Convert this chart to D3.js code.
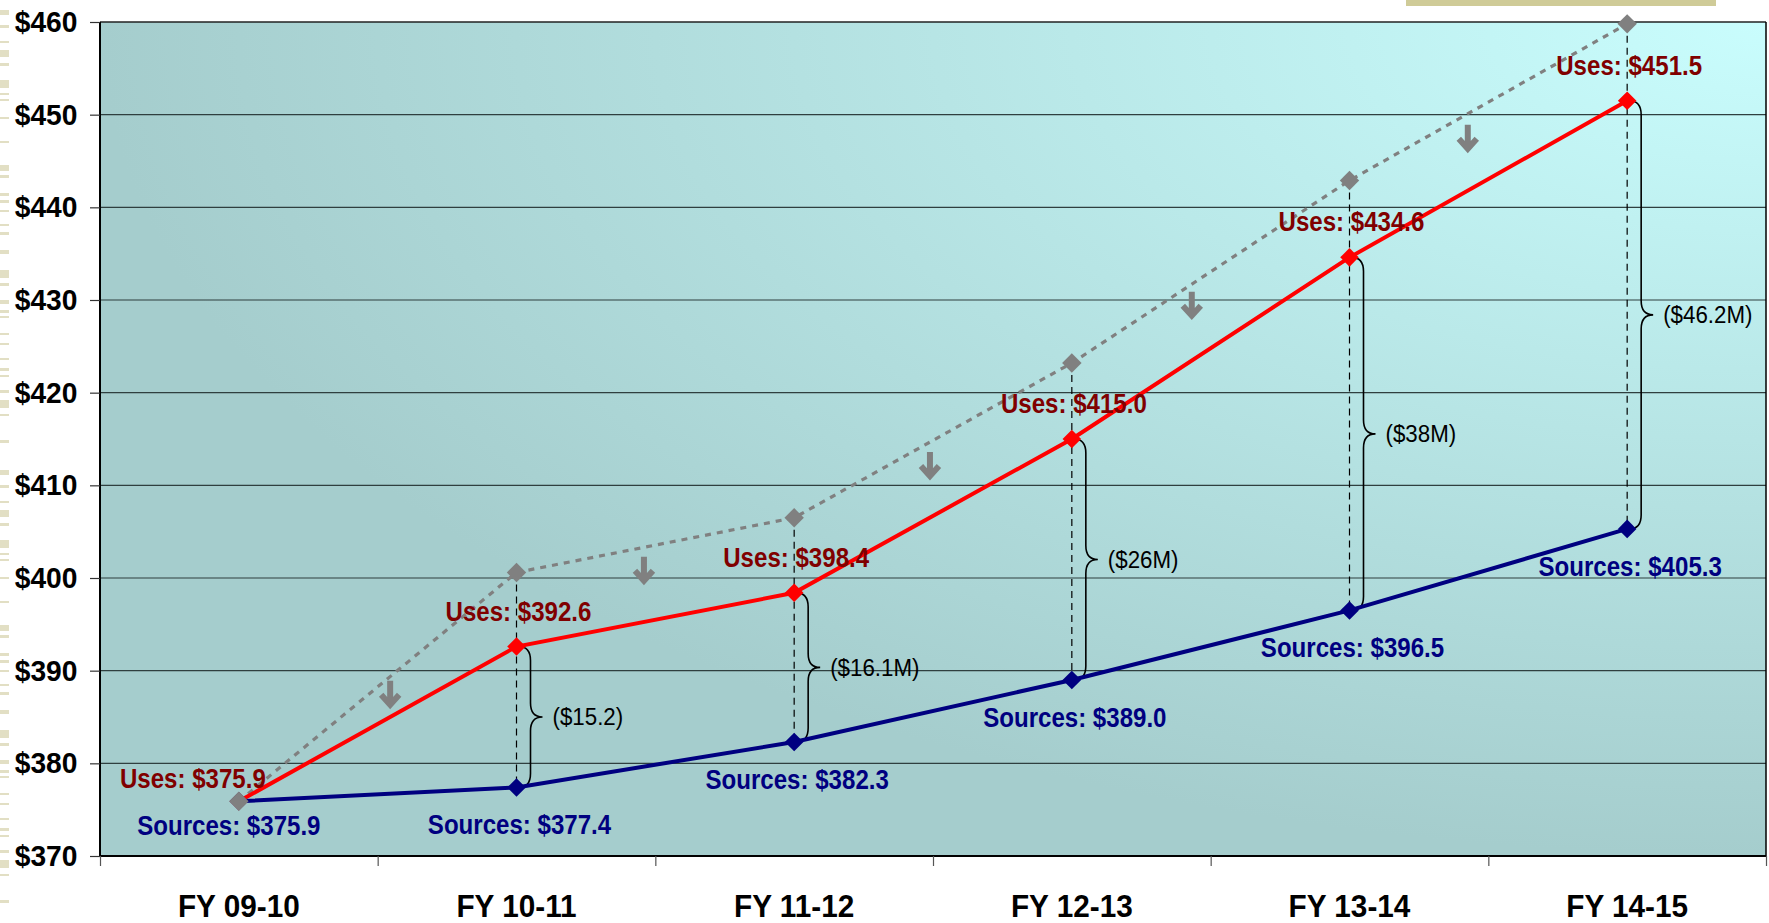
<!DOCTYPE html>
<html>
<head>
<meta charset="utf-8">
<script src="https://cdn.jsdelivr.net/npm/d3@7/dist/d3.min.js"></script>
<style>
  html, body { margin: 0; padding: 0; background: #ffffff; }
  svg { display: block; }
</style>
</head>
<body>
<svg id="chart" width="1769" height="923"></svg>
<script>
// ---------------- data ----------------
const categories = ["FY 09-10", "FY 10-11", "FY 11-12", "FY 12-13", "FY 13-14", "FY 14-15"];
const usesValues = [375.9, 392.6, 398.4, 415.0, 434.6, 451.5];
const sourcesValues = [375.9, 377.4, 382.3, 389.0, 396.5, 405.3];
const priorUsesValues = [375.9, 400.6, 406.5, 423.2, 442.9, 459.8];
const gapLabels = [null, "($15.2)", "($16.1M)", "($26M)", "($38M)", "($46.2M)"];
const yTickValues = [370, 380, 390, 400, 410, 420, 430, 440, 450, 460];
// downward arrows: fractional category index and value of arrow centre
const arrowIndex = [0.545, 1.459, 2.489, 3.432, 4.426];
const arrowValues = [387.5, 400.9, 412.2, 429.5, 447.5];

// ---------------- layout ----------------
const W = 1769, H = 923;
const plot = { left: 100, right: 1766, top: 22, bottom: 856 };
const svg = d3.select("#chart");
const defs = svg.append("defs");

const x = d3.scaleBand().domain(categories).range([plot.left, plot.right]).paddingInner(0).paddingOuter(0);
const xi = d3.scaleLinear().domain([-0.5, categories.length - 0.5]).range([plot.left, plot.right]);
const y = d3.scaleLinear().domain([370, 460]).range([plot.bottom, plot.top]);
const cx = i => x(categories[i]) + x.bandwidth() / 2;

// ---------------- slide decorations ----------------
const decoRows = [10,25,41,50,63,80,93,99,117,141,165,175,193,200,210,224,232,250,270,283,300,310,316,333,343,358,368,375,390,400,414,440];
const decoH = [5,3,2,7,3,8,2,2,2,2,6,3,3,3,2,2,3,4,8,3,4,3,2,2,2,2,3,2,3,8,2,3];
const deco = svg.append("g").attr("fill", "#e2dfc4");
[0, 460].forEach(off => {
  decoRows.forEach((r, k) => {
    deco.append("rect").attr("x", 0).attr("y", r + off).attr("width", 9).attr("height", decoH[k]);
  });
});
svg.append("rect").attr("x", 1406).attr("y", 0).attr("width", 310).attr("height", 6).attr("fill", "#cfcb98");

// ---------------- background ----------------
const grad = defs.append("radialGradient").attr("id", "bg")
  .attr("cx", 1).attr("cy", 0).attr("r", 1).attr("fx", 1).attr("fy", 0);
grad.append("stop").attr("offset", "0%").attr("stop-color", "#c9fdfd");
grad.append("stop").attr("offset", "100%").attr("stop-color", "#a5cdcd");
svg.append("rect").attr("x", plot.left).attr("y", plot.top)
  .attr("width", plot.right - plot.left).attr("height", plot.bottom - plot.top)
  .attr("fill", "url(#bg)");

// gridlines
svg.append("g").selectAll("line").data(yTickValues).join("line")
  .attr("x1", plot.left).attr("x2", plot.right)
  .attr("y1", d => y(d)).attr("y2", d => y(d))
  .attr("stroke", d => d === 460 ? "#222" : "#2f3f3f").attr("stroke-width", d => d === 460 ? 1.5 : 1.2);

// right border
svg.append("line").attr("x1", plot.right).attr("x2", plot.right).attr("y1", plot.top).attr("y2", plot.bottom)
  .attr("stroke", "#000").attr("stroke-width", 1.5);

// ---------------- axes ----------------
const yAxis = svg.append("g").attr("transform", `translate(${plot.left},0)`)
  .call(d3.axisLeft(y).tickValues(yTickValues).tickSize(10).tickPadding(14).tickFormat(d => "$" + d));
yAxis.select(".domain").attr("stroke", "#000").attr("stroke-width", 2).attr("d", `M0,${plot.top}V${plot.bottom}`);
yAxis.selectAll(".tick line").attr("stroke", "#333").attr("stroke-width", 1.2);
yAxis.selectAll(".tick text")
  .attr("font-family", "'Liberation Sans', Arial, sans-serif").attr("font-size", 30).attr("font-weight", "bold")
  .attr("fill", "#000").attr("transform", "scale(0.94,1)");

const xTicks = svg.append("g").attr("transform", `translate(0,${plot.bottom})`)
  .call(d3.axisBottom(xi).tickValues(d3.range(-0.5, categories.length, 1)).tickSize(10).tickFormat(""));
xTicks.select(".domain").attr("stroke", "#000").attr("stroke-width", 2).attr("d", `M${plot.left},0H${plot.right}`);
xTicks.selectAll(".tick line").attr("stroke", "#555").attr("stroke-width", 1.2);

const xAxis = svg.append("g").attr("transform", `translate(0,${plot.bottom})`)
  .call(d3.axisBottom(x).tickSize(0).tickPadding(38));
xAxis.select(".domain").remove();
xAxis.selectAll(".tick text")
  .attr("font-family", "'Liberation Sans', Arial, sans-serif").attr("font-size", 32).attr("font-weight", "bold")
  .attr("fill", "#000").attr("transform", "scale(0.93,1)");

// ---------------- prior projection (grey dotted) ----------------
const line = d3.line().x((d, i) => cx(i)).y(d => y(d));
svg.append("path").datum(priorUsesValues).attr("d", line)
  .attr("fill", "none").attr("stroke", "#808080").attr("stroke-width", 3.2).attr("stroke-dasharray", "6,6");

// dashed drop lines
svg.append("g").selectAll("line").data(d3.range(1, categories.length)).join("line")
  .attr("x1", i => cx(i)).attr("x2", i => cx(i))
  .attr("y1", i => y(priorUsesValues[i])).attr("y2", i => y(sourcesValues[i]))
  .attr("stroke", "#000").attr("stroke-width", 1.2).attr("stroke-dasharray", "7,5");

// down arrows
svg.append("g").selectAll("path").data(arrowIndex).join("path")
  .attr("transform", (d, k) => `translate(${xi(d)},${y(arrowValues[k])})`)
  .attr("d", "M0,-13L0,11M-9,1L0,11L9,1")
  .attr("fill", "none").attr("stroke", "#808080").attr("stroke-width", 6).attr("stroke-linejoin", "miter");

// braces
const braces = svg.append("g");
d3.range(1, categories.length).forEach(i => {
  const x0 = cx(i) + 2, yt = y(usesValues[i]), yb = y(sourcesValues[i]), ym = (yt + yb) / 2;
  const bx = cx(i) + 14, px = cx(i) + 26, r = 14;
  const p = `M${x0},${yt} Q${bx},${yt} ${bx},${yt + r} L${bx},${ym - r} Q${bx},${ym} ${px},${ym}` +
            ` Q${bx},${ym} ${bx},${ym + r} L${bx},${yb - r} Q${bx},${yb} ${x0},${yb}`;
  braces.append("path").attr("d", p).attr("fill", "none").attr("stroke", "#000").attr("stroke-width", 1.6);
  braces.append("text").attr("transform", `translate(${cx(i) + 36},${ym}) scale(0.93,1)`)
    .attr("dy", "0.35em")
    .attr("font-family", "'Liberation Sans', Arial, sans-serif").attr("font-size", 24)
    .attr("fill", "#000").text(gapLabels[i]);
});

// ---------------- main lines ----------------
svg.append("path").datum(usesValues).attr("d", line)
  .attr("fill", "none").attr("stroke", "#ff0000").attr("stroke-width", 4);
svg.append("path").datum(sourcesValues).attr("d", line)
  .attr("fill", "none").attr("stroke", "#000080").attr("stroke-width", 4);

const diamond = d3.symbol().type(d3.symbolDiamond2);
function markers(vals, color, size) {
  svg.append("g").selectAll("path").data(vals).join("path")
    .attr("transform", (d, i) => `translate(${cx(i)},${y(d)})`)
    .attr("d", diamond.size(size)()).attr("fill", color);
}
markers(usesValues, "#ff0000", 220);
markers(sourcesValues, "#000080", 220);
markers(priorUsesValues, "#808080", 240);

// ---------------- value labels ----------------
const lab = svg.append("g").attr("font-family", "'Liberation Sans', Arial, sans-serif")
  .attr("font-size", 28).attr("font-weight", "bold").attr("text-anchor", "middle");
usesValues.forEach((v, i) => {
  const tx = i === 0 ? cx(i) - 46 : cx(i) + 2;
  const ty = i === 0 ? y(v) - 13 : y(v) - 26;
  lab.append("text").attr("transform", `translate(${tx},${ty}) scale(0.86,1)`)
    .attr("fill", "#800000").text("Uses: $" + v.toFixed(1));
});
sourcesValues.forEach((v, i) => {
  const tx = i === 0 ? cx(i) - 10 : cx(i) + 3;
  const ty = i === 0 ? y(v) + 34 : y(v) + 47;
  lab.append("text").attr("transform", `translate(${tx},${ty}) scale(0.86,1)`)
    .attr("fill", "#000080").text("Sources: $" + v.toFixed(1));
});
</script>
</body>
</html>
